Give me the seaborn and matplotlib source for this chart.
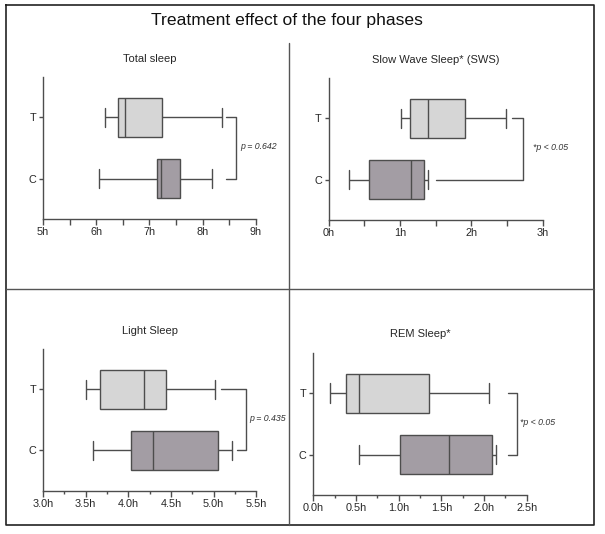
import numpy as np
import pandas as pd
import seaborn as sns
import matplotlib.pyplot as plt
from matplotlib.lines import Line2D
from matplotlib.ticker import FuncFormatter, MultipleLocator

# five-number summaries: min, q1, median, q3, max (hours)
groups = ["T", "C"]
total_t = [6.17, 6.40, 6.54, 7.24, 8.37]
total_c = [6.06, 7.14, 7.21, 7.57, 8.18]
sws_t = [1.02, 1.14, 1.39, 1.91, 2.49]
sws_c = [0.28, 0.57, 1.15, 1.33, 1.39]
light_t = [3.50, 3.67, 4.18, 4.44, 5.02]
light_c = [3.59, 4.03, 4.29, 5.05, 5.22]
rem_t = [0.20, 0.38, 0.54, 1.35, 2.06]
rem_c = [0.54, 1.02, 1.59, 2.09, 2.14]

titles = ["Total sleep", "Slow Wave Sleep* (SWS)", "Light Sleep", "REM Sleep*"]
p_labels = ["p = 0.642", "*p < 0.05", "p = 0.435", "*p < 0.05"]

sns.set_style("ticks")
plt.rcParams["font.family"] = ["Liberation Sans", "DejaVu Sans"]

edge = "#4d4d4d"
palette = {"T": "#d6d6d6", "C": "#a49ca5"}

fig = plt.figure(figsize=(6.05, 5.34), dpi=100)

# panel layout: [left, bottom, width, height], x range, major step, minor step, decimals
panels = [
    ([0.0711, 0.590, 0.352, 0.266], total_t, total_c, (5, 9), 1.0, 0.5, 0,
     (8.43, 8.43, 8.63), 3),
    ([0.5433, 0.588, 0.3537, 0.266], sws_t, sws_c, (0, 3), 1.0, 0.5, 0,
     (2.57, 1.50, 2.73), 7),
    ([0.0711, 0.0811, 0.3526, 0.2653], light_t, light_c, (3, 5.5), 0.5, 0.25, 1,
     (5.09, 5.27, 5.38), 2),
    ([0.5179, 0.073, 0.3527, 0.2665], rem_t, rem_c, (0, 2.5), 0.5, 0.25, 1,
     (2.28, 2.28, 2.39), 2),
]

for i, (rect, vt, vc, xr, major, minor, dec, brk, toff) in enumerate(panels):
    ax = fig.add_axes(rect)
    df = pd.DataFrame({
        "group": ["T"] * len(vt) + ["C"] * len(vc),
        "hours": vt + vc,
    })
    sns.boxplot(data=df, x="hours", y="group", order=groups, hue="group",
                palette=palette, legend=False, whis=(0, 100), width=0.64,
                linecolor=edge, linewidth=1.0, ax=ax)

    ax.set_xlim(*xr)
    ax.set_ylim(1.66, -0.66)
    ax.xaxis.set_major_locator(MultipleLocator(major))
    ax.xaxis.set_minor_locator(MultipleLocator(minor))
    ax.xaxis.set_major_formatter(FuncFormatter(
        lambda v, pos, d=dec: f"{v:.{d}f}h"))
    if dec == 0:
        ax.tick_params(axis="x", which="minor", length=4, width=1, color=edge)
    else:
        ax.tick_params(axis="x", which="minor", length=2, width=1, color=edge)
    ax.tick_params(axis="x", which="major", length=4, width=1, color=edge,
                   labelsize=7.8, pad=2)
    ax.tick_params(axis="y", length=3, width=1, color=edge, labelsize=7.8, pad=2)
    ax.set_xlabel("")
    ax.set_ylabel("")
    sns.despine(ax=ax)
    for s in ["left", "bottom"]:
        ax.spines[s].set_color(edge)
        ax.spines[s].set_linewidth(1.0)
    ax.set_title(titles[i], fontsize=8, pad=11)

    # significance bracket
    t_start, c_start, xv = brk
    ax.plot([t_start, xv, xv, c_start], [0, 0, 1, 1], color=edge, lw=1.0,
            clip_on=False)
    ax.annotate(p_labels[i], xy=(xv, 0.47), xytext=(toff, 0),
                textcoords="offset points", fontsize=6.3, style="italic",
                color="#333333", va="center", ha="left", annotation_clip=False)

fig.text(0.475, 0.962, "Treatment effect of the four phases", fontsize=12.6,
         ha="center", va="center", color="#111111")

# outer frame and panel dividers (figure pixel coordinates)
W, H = 605.0, 534.0
def px(x, y):
    return x / W, 1 - y / H

x0, y0 = px(6, 5)
x1, y1 = px(594, 525)
fig.add_artist(Line2D([x0, x1, x1, x0, x0], [y0, y0, y1, y1, y0],
                      color="#222222", lw=1.2))
xa, ya = px(288.7, 43)
_, yb = px(288.7, 525)
fig.add_artist(Line2D([xa, xa], [ya, yb], color="#555555", lw=1.0))
_, yh = px(0, 289)
fig.add_artist(Line2D([x0, x1], [yh, yh], color="#555555", lw=1.0))

fig.savefig("out.png", dpi=100)
